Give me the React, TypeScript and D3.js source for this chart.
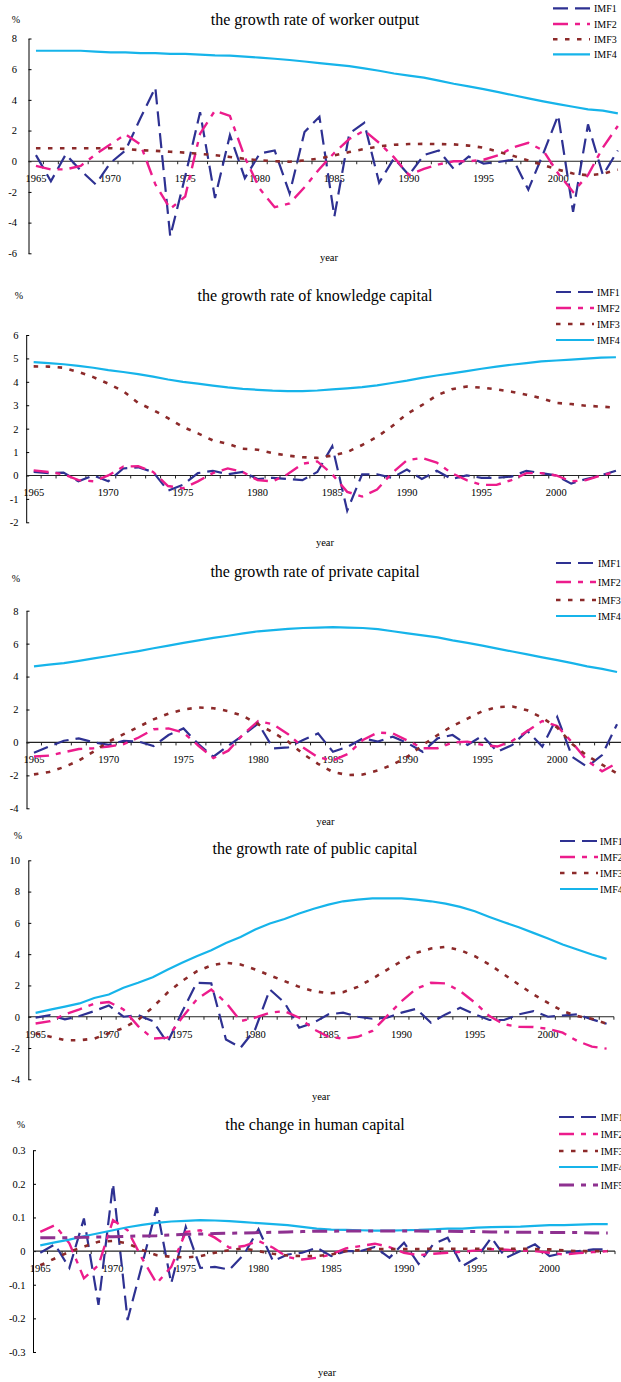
import { useEffect, useRef } from "react";
import * as d3 from "d3";

const years = d3.range(1965, 2005);
const yearLabels = [1965, 1970, 1975, 1980, 1985, 1990, 1995, 2000];
const seriesNames = ["IMF1", "IMF2", "IMF3", "IMF4", "IMF5"];

// worker output
const workerImf1 = [0.4, -1.3, 0.45, -0.6, -1.5, -0.1, 0.7, 2.8, 4.8, -4.9, -1.0, 3.2, -2.4, 1.7, -1.1, 0.5, 0.7, -2.1, 1.9, 2.9, -3.6, 1.8, 2.5, -1.4, 0.2, -0.9, 0.4, 0.7, -0.5, 0.3, -0.15, -0.05, 0.1, -1.85, 0.5, 3.0, -3.3, 2.4, -0.9, 0.7];
const workerImf2 = [-0.3, -0.53, -0.53, -0.3, 0.45, 1.1, 1.75, 1.1, -1.5, -3.1, -2.3, 1.8, 3.3, 2.95, 0.25, -1.8, -3.0, -2.75, -1.7, -0.5, 0.55, 1.45, 2.0, 1.2, 0.25, -0.9, -0.5, -0.2, 0.0, 0.0, 0.1, 0.4, 0.9, 1.2, 0.7, -0.8, -2.0, -0.9, 0.9, 2.3];
const workerImf3 = [0.85, 0.85, 0.85, 0.85, 0.85, 0.85, 0.8, 0.72, 0.68, 0.62, 0.56, 0.48, 0.4, 0.28, 0.16, 0.06, 0.0, -0.03, 0.05, 0.18, 0.38, 0.6, 0.8, 0.97, 1.07, 1.12, 1.13, 1.12, 1.1, 1.02, 0.88, 0.62, 0.35, 0.05, -0.25, -0.55, -0.8, -0.92, -0.82, -0.55];
const workerImf4 = [7.2, 7.2, 7.2, 7.2, 7.15, 7.1, 7.1, 7.05, 7.05, 7.0, 7.0, 6.95, 6.9, 6.88, 6.82, 6.75, 6.68, 6.6, 6.5, 6.4, 6.3, 6.2, 6.05, 5.9, 5.72, 5.58, 5.45, 5.25, 5.05, 4.88, 4.7, 4.5, 4.3, 4.1, 3.9, 3.72, 3.55, 3.38, 3.3, 3.12];

// knowledge capital
const knowImf1 = [0.15, 0.1, 0.12, -0.25, 0.0, -0.25, 0.3, 0.35, 0.15, -0.65, -0.4, 0.1, 0.2, 0.05, 0.15, -0.15, -0.1, -0.15, -0.2, 0.15, 1.25, -1.5, 0.05, 0.05, -0.1, 0.25, -0.15, 0.2, -0.15, 0.0, -0.1, -0.1, -0.05, 0.2, 0.1, 0.0, -0.35, -0.15, 0.0, 0.2];
const knowImf2 = [0.22, 0.15, 0.05, -0.2, -0.25, 0.0, 0.38, 0.4, 0.15, -0.45, -0.55, -0.25, 0.1, 0.3, 0.15, -0.2, -0.25, 0.05, 0.5, 0.6, 0.05, -0.7, -0.9, -0.6, 0.1, 0.65, 0.75, 0.55, 0.1, -0.2, -0.4, -0.4, -0.2, 0.1, 0.1, 0.0, -0.25, -0.2, 0.0, 0.15];
const knowImf3 = [4.66, 4.65, 4.6, 4.42, 4.2, 3.92, 3.6, 3.1, 2.8, 2.45, 2.07, 1.8, 1.5, 1.35, 1.14, 1.1, 0.95, 0.85, 0.78, 0.75, 0.85, 1.0, 1.3, 1.65, 2.1, 2.63, 3.0, 3.42, 3.68, 3.8, 3.75, 3.68, 3.58, 3.45, 3.3, 3.1, 3.05, 2.98, 2.94, 2.9];
const knowImf4 = [4.84, 4.8, 4.75, 4.68, 4.6, 4.5, 4.42, 4.33, 4.22, 4.1, 4.0, 3.92, 3.84, 3.76, 3.7, 3.66, 3.62, 3.6, 3.6, 3.63, 3.68, 3.72, 3.77, 3.85, 3.95, 4.05, 4.17, 4.27, 4.36, 4.46, 4.56, 4.65, 4.73, 4.8, 4.87, 4.91, 4.95, 4.99, 5.03, 5.05];

// private capital
const privImf1 = [-0.63, -0.25, 0.1, 0.25, 0.0, -0.15, 0.1, 0.05, -0.22, 0.45, 0.85, -0.1, -0.87, -0.2, 0.45, 1.15, -0.36, -0.3, 0.15, 0.55, -0.57, -0.25, 0.25, 0.05, 0.35, -0.05, -0.57, 0.25, 0.45, -0.15, 0.4, -0.57, -0.15, 0.7, -0.25, 1.55, -0.87, -1.48, -0.77, 1.1];
const privImf2 = [-0.85, -0.8, -0.6, -0.4, -0.35, -0.25, -0.1, 0.3, 0.8, 0.85, 0.6, -0.2, -0.95, -0.5, 0.5, 1.3, 1.1, 0.5, -0.3, -0.9, -1.1, -0.7, 0.15, 0.6, 0.55, 0.1, -0.35, -0.35, 0.0, 0.05, -0.15, -0.25, 0.1, 0.7, 1.3, 1.0, 0.0, -1.1, -1.75, -1.25];
const privImf3 = [-1.94, -1.8, -1.5, -1.1, -0.55, 0.05, 0.5, 0.95, 1.4, 1.75, 2.0, 2.12, 2.08, 1.9, 1.6, 1.1, 0.6, 0.05, -0.7, -1.3, -1.8, -1.98, -1.95, -1.7, -1.35, -0.85, -0.16, 0.45, 1.0, 1.45, 1.9, 2.15, 2.18, 1.95, 1.5, 0.9, -0.1, -0.8, -1.35, -1.88];
const privImf4 = [4.62, 4.72, 4.82, 4.95, 5.1, 5.25, 5.4, 5.55, 5.72, 5.88, 6.05, 6.2, 6.35, 6.48, 6.62, 6.75, 6.82, 6.9, 6.95, 6.97, 7.0, 6.97, 6.95, 6.88, 6.75, 6.62, 6.5, 6.38, 6.2, 6.05, 5.88, 5.7, 5.52, 5.35, 5.17, 5.0, 4.82, 4.62, 4.47, 4.28];

// public capital
const pubImf1 = [-0.06, 0.1, -0.17, 0.05, 0.36, 0.72, 0.0, 0.1, -0.28, -1.66, 0.3, 2.17, 2.13, -1.45, -1.98, -0.8, 1.74, 0.9, -0.7, -0.38, 0.15, 0.26, 0.0, -0.13, -0.06, 0.26, 0.51, -0.38, 0.15, 0.57, 0.15, -0.21, -0.21, 0.15, 0.36, 0.0, 0.08, 0.15, -0.17, -0.45];
const pubImf2 = [-0.43, -0.28, 0.15, 0.47, 0.83, 0.94, 0.47, -0.6, -1.4, -1.34, -0.06, 1.1, 1.74, 0.9, -0.28, -0.06, 0.26, 0.36, -0.06, -0.8, -1.28, -1.4, -1.28, -0.91, 0.04, 1.0, 1.79, 2.17, 2.13, 1.64, 0.9, 0.04, -0.49, -0.64, -0.66, -0.77, -1.02, -1.55, -1.91, -2.04];
const pubImf3 = [-1.06, -1.28, -1.5, -1.5, -1.4, -1.06, -0.72, -0.2, 0.6, 1.53, 2.28, 2.9, 3.28, 3.45, 3.34, 3.02, 2.64, 2.28, 1.91, 1.64, 1.49, 1.57, 1.91, 2.43, 3.0, 3.55, 4.08, 4.36, 4.47, 4.26, 3.87, 3.34, 2.7, 2.06, 1.43, 0.89, 0.36, 0.04, -0.13, -0.45];
const pubImf4 = [0.25, 0.45, 0.65, 0.85, 1.2, 1.42, 1.85, 2.17, 2.53, 3.0, 3.45, 3.87, 4.25, 4.72, 5.1, 5.57, 5.96, 6.25, 6.6, 6.9, 7.17, 7.38, 7.49, 7.57, 7.57, 7.57, 7.49, 7.38, 7.23, 7.02, 6.74, 6.38, 6.04, 5.72, 5.36, 5.0, 4.62, 4.3, 3.98, 3.7];

// human capital
const humImf1 = [-0.005, 0.02, -0.05, 0.097, -0.16, 0.2, -0.205, -0.04, 0.13, -0.096, 0.072, -0.05, -0.047, -0.055, -0.01, 0.065, -0.03, -0.01, -0.005, 0.01, -0.015, 0.0, 0.0, 0.012, -0.02, 0.025, -0.038, 0.02, 0.04, -0.045, -0.02, 0.04, -0.02, 0.0, 0.02, -0.015, -0.005, 0.0, 0.005, 0.005];
const humImf2 = [0.057, 0.077, 0.023, -0.081, -0.042, 0.092, 0.062, -0.022, -0.096, -0.047, 0.057, 0.062, 0.04, 0.01, 0.015, 0.03, 0.01, -0.018, -0.025, -0.02, -0.01, 0.008, 0.015, 0.022, 0.012, -0.005, -0.012, -0.008, -0.005, -0.002, 0.002, 0.006, 0.004, 0.002, 0.0, -0.005, -0.01, -0.006, -0.003, 0.0];
const humImf3 = [-0.042, -0.022, -0.002, 0.013, 0.028, 0.03, 0.023, 0.003, -0.012, -0.017, -0.019, -0.015, -0.005, 0.003, 0.008, 0.0, -0.008, -0.013, -0.015, -0.015, -0.01, 0.0, 0.003, 0.006, 0.006, 0.006, 0.006, 0.007, 0.007, 0.007, 0.007, 0.007, 0.007, 0.007, 0.006, 0.005, 0.002, 0.0, 0.0, 0.0];
const humImf4 = [0.017, 0.026, 0.034, 0.044, 0.053, 0.062, 0.071, 0.078, 0.084, 0.088, 0.09, 0.092, 0.091, 0.089, 0.086, 0.083, 0.08, 0.077, 0.072, 0.067, 0.064, 0.063, 0.062, 0.061, 0.061, 0.062, 0.063, 0.065, 0.067, 0.067, 0.07, 0.071, 0.072, 0.073, 0.075, 0.077, 0.077, 0.079, 0.08, 0.08];
const humImf5 = [0.04, 0.04, 0.04, 0.041, 0.042, 0.043, 0.044, 0.045, 0.046, 0.048, 0.05, 0.051, 0.052, 0.053, 0.054, 0.055, 0.056, 0.057, 0.058, 0.059, 0.059, 0.06, 0.06, 0.06, 0.06, 0.06, 0.06, 0.059, 0.059, 0.058, 0.058, 0.057, 0.057, 0.056, 0.056, 0.055, 0.055, 0.055, 0.054, 0.054];

const panels = [
  { title: "the growth rate of worker output", yTicks: [-6, -4, -2, 0, 2, 4, 6, 8], series: [workerImf1, workerImf2, workerImf3, workerImf4] },
  { title: "the growth rate of knowledge capital", yTicks: [-2, -1, 0, 1, 2, 3, 4, 5, 6], series: [knowImf1, knowImf2, knowImf3, knowImf4] },
  { title: "the growth rate of private capital", yTicks: [-4, -2, 0, 2, 4, 6, 8], series: [privImf1, privImf2, privImf3, privImf4] },
  { title: "the growth rate of public capital", yTicks: [-4, -2, 0, 2, 4, 6, 8, 10], series: [pubImf1, pubImf2, pubImf3, pubImf4] },
  { title: "the change in human capital", yTicks: [-0.3, -0.2, -0.1, 0, 0.1, 0.2, 0.3], series: [humImf1, humImf2, humImf3, humImf4, humImf5] },
];

const lineStyles = [
  { color: "#2E3192", dash: "15,7", width: 2.2 },
  { color: "#EC1C8C", dash: "15,7,5,7", width: 2.4 },
  { color: "#8C2A2A", dash: "4.5,7.5", width: 2.6 },
  { color: "#16B4EA", dash: null, width: 2.2 },
  { color: "#8E3190", dash: "15,7,5,7", width: 3 },
];

// where each panel sits on the page
const frames = [
  { axisX: 28.5, step: 14.92, yTop: 38.5, yBottom: 253.3, gap: 11.5, titleY: 25, pct: [16, 23], yearXY: [329, 261], legend: { x1: 553, x2: 590, tx: 594, rows: [8.3, 24, 39.3, 54.3] } },
  { axisX: 26.2, step: 14.93, yTop: 335, yBottom: 522.3, gap: 7.7, titleY: 301, pct: [19, 299], yearXY: [325, 546], legend: { x1: 556, x2: 594, tx: 597, rows: [292, 308, 324, 340] } },
  { axisX: 26.5, step: 14.95, yTop: 610.7, yBottom: 808.3, gap: 8, titleY: 577, pct: [16, 582], yearXY: [325.5, 825], legend: { x1: 556, x2: 596, tx: 598, rows: [563, 582, 600, 616] } },
  { axisX: 28.3, step: 14.64, yTop: 860.3, yBottom: 1079.3, gap: 8.3, titleY: 854, pct: [18, 839], yearXY: [321, 1100], legend: { x1: 560, x2: 598, tx: 600, rows: [841, 857, 873, 889] } },
  { axisX: 33, step: 14.55, yTop: 1150.2, yBottom: 1352, gap: 7.5, titleY: 1130, pct: [21, 1127.5], yearXY: [327, 1376], legend: { x1: 559, x2: 598, tx: 600.7, rows: [1117, 1134, 1151, 1167, 1185] } },
];

const FONT = '"Liberation Serif", "Times New Roman", serif';

const App = () => {
  const svgRef = useRef(null);

  useEffect(() => {
    const svg = d3.select(svgRef.current);
    svg.selectAll("*").remove();

    panels.forEach((p, pi) => {
      const f = frames[pi];
      const g = svg.append("g");

      const x = d3.scaleBand().domain(years.map(String)).range([f.axisX, f.axisX + years.length * f.step]).paddingInner(0).paddingOuter(0);
      const cx = (yr) => x(String(yr)) + x.bandwidth() / 2;
      const y = d3.scaleLinear().domain([p.yTicks[0], p.yTicks[p.yTicks.length - 1]]).range([f.yBottom, f.yTop]);

      // title, unit, axis name
      g.append("text").attr("x", 315).attr("y", f.titleY).attr("text-anchor", "middle")
        .attr("font-family", FONT).attr("font-size", 16).text(p.title);
      g.append("text").attr("x", f.pct[0]).attr("y", f.pct[1]).attr("text-anchor", "middle")
        .attr("font-family", FONT).attr("font-size", 10).text("%");
      g.append("text").attr("x", f.yearXY[0]).attr("y", f.yearXY[1]).attr("text-anchor", "middle")
        .attr("font-family", FONT).attr("font-size", 10.5).text("year");

      // y axis
      const fmt = (v) => (v === 0 ? "0" : pi === 4 ? v.toFixed(1) : String(v));
      const yAxis = d3.axisLeft(y).tickValues(p.yTicks).tickSizeInner(-3).tickSizeOuter(0).tickPadding(f.gap).tickFormat(fmt);
      const ya = g.append("g").attr("transform", `translate(${f.axisX},0)`).call(yAxis);
      ya.attr("font-family", FONT).attr("font-size", 10.5);
      ya.selectAll("line").attr("stroke", "#000");
      ya.select(".domain").attr("stroke", "#000");
      ya.selectAll("text").attr("fill", "#000");

      // zero line with category ticks
      const y0 = y(0);
      const xEnd = f.axisX + years.length * f.step;
      g.append("line").attr("x1", f.axisX).attr("x2", xEnd).attr("y1", y0).attr("y2", y0)
        .attr("stroke", "#222").attr("stroke-width", 1.2);
      g.selectAll(".xt").data(years).join("line").attr("class", "xt")
        .attr("x1", (d) => x(String(d)) + x.bandwidth()).attr("x2", (d) => x(String(d)) + x.bandwidth())
        .attr("y1", y0).attr("y2", y0 + 3).attr("stroke", "#222").attr("stroke-width", 1);
      g.selectAll(".xl").data(yearLabels).join("text").attr("class", "xl")
        .attr("x", (d) => cx(d)).attr("y", y0 + 21).attr("text-anchor", "middle")
        .attr("font-family", FONT).attr("font-size", 10.5).text((d) => d);

      // series
      const line = d3.line().x((d, i) => cx(years[i])).y((d) => y(d));
      p.series.forEach((s, si) => {
        const st = lineStyles[si];
        g.append("path").datum(s).attr("d", line).attr("fill", "none")
          .attr("stroke", st.color).attr("stroke-width", st.width)
          .attr("stroke-dasharray", st.dash).attr("stroke-linejoin", "miter");
      });

      // legend
      p.series.forEach((s, si) => {
        const st = lineStyles[si];
        const ry = f.legend.rows[si];
        g.append("line").attr("x1", f.legend.x1).attr("x2", f.legend.x2).attr("y1", ry).attr("y2", ry)
          .attr("stroke", st.color).attr("stroke-width", st.width).attr("stroke-dasharray", st.dash);
        g.append("text").attr("x", f.legend.tx).attr("y", ry + 3.6)
          .attr("font-family", FONT).attr("font-size", 10).text(seriesNames[si]);
      });
    });
  }, []);

  return (
    <svg ref={svgRef} width={621} height={1382}
      style={{ position: "absolute", left: 0, top: 0, background: "#fff" }} />
  );
};

export default App;
